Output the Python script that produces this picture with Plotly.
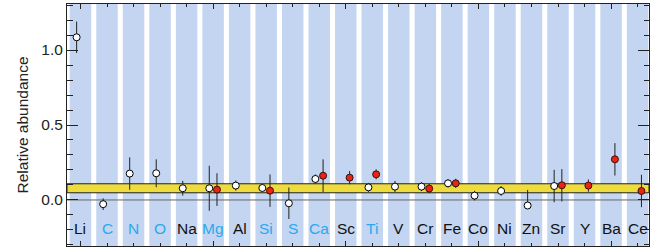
import plotly.graph_objects as go

elements = ["Li", "C", "N", "O", "Na", "Mg", "Al", "Si", "S", "Ca", "Sc",
            "Ti", "V", "Cr", "Fe", "Co", "Ni", "Zn", "Sr", "Y", "Ba", "Ce"]
highlight = ["C", "N", "O", "Mg", "Si", "S", "Ca", "Ti"]

# open (white) points
white_val = [1.085, -0.028, 0.176, 0.178, 0.078, 0.078, 0.096, 0.080, -0.022, 0.140, None,
             0.084, 0.089, 0.089, 0.111, 0.029, 0.060, -0.037, 0.093, None, None, None]
white_errp = [0.105, 0.039, 0.108, 0.093, 0.049, 0.150, 0.034, 0.022, 0.105, 0.030, None,
              0.030, 0.038, 0.030, 0.027, 0.032, 0.032, 0.104, 0.108, None, None, None]
white_errm = [0.105, 0.039, 0.108, 0.093, 0.049, 0.150, 0.034, 0.022, 0.105, 0.030, None,
              0.030, 0.038, 0.030, 0.027, 0.032, 0.032, 0.0, 0.108, None, None, None]

# filled (red) points
red_val = [None, None, None, None, None, 0.069, None, 0.062, None, 0.162, 0.149,
           0.171, None, 0.076, 0.111, None, None, None, 0.098, 0.096, 0.271, 0.060]
red_err = [None, None, None, None, None, 0.109, None, 0.108, None, 0.109, 0.044,
           0.033, None, 0.031, 0.030, None, None, None, 0.108, 0.041, 0.108, 0.108]

band_low, band_high = 0.048, 0.108

FONT = "Liberation Sans"
BLUE_BAND = "#C3D5F1"
YELLOW = "#EEDC3F"
LABEL_BLUE = "#29A9F0"
OFFSET = 0.145

idx = list(range(len(elements)))

def pick(vals, ep, em, off):
    xs, ys, p, m = [], [], [], []
    for i, v in enumerate(vals):
        if v is None:
            continue
        xs.append(i + off)
        ys.append(v)
        p.append(ep[i])
        m.append(em[i])
    return xs, ys, p, m

fig = go.Figure()

wx, wy, wp, wm = pick(white_val, white_errp, white_errm, -OFFSET)
fig.add_trace(go.Scatter(
    x=wx, y=wy, mode="markers",
    marker=dict(size=7, color="white", line=dict(color="black", width=1)),
    error_y=dict(type="data", symmetric=False, array=wp, arrayminus=wm,
                 color="#222222", thickness=1, width=0),
    showlegend=False, cliponaxis=False))

rx, ry, rp, rm = pick(red_val, red_err, red_err, OFFSET)
fig.add_trace(go.Scatter(
    x=rx, y=ry, mode="markers",
    marker=dict(size=7, color="#EE2211", line=dict(color="#331111", width=1)),
    error_y=dict(type="data", symmetric=False, array=rp, arrayminus=rm,
                 color="#222222", thickness=1, width=0),
    showlegend=False, cliponaxis=False))

shapes = []
for i in idx:
    shapes.append(dict(type="rect", xref="x", yref="paper", x0=i - 0.405, x1=i + 0.405,
                       y0=0, y1=1, fillcolor=BLUE_BAND, line=dict(width=0), layer="below"))
shapes.append(dict(type="rect", xref="paper", yref="y", x0=0, x1=1, y0=band_low, y1=band_high,
                   fillcolor=YELLOW, line=dict(color="#222222", width=1), layer="below"))
shapes.append(dict(type="line", xref="paper", yref="y", x0=0, x1=1, y0=0, y1=0,
                   line=dict(color="#666666", width=1), layer="below"))

annotations = []
for i, el in enumerate(elements):
    annotations.append(dict(x=i, y=-0.19, xref="x", yref="y", text=el, showarrow=False,
                            xanchor="center", yanchor="middle",
                            font=dict(family=FONT, size=15.5,
                                      color=LABEL_BLUE if el in highlight else "#111111")))
annotations.append(dict(x=-0.0765, y=0.5, xref="paper", yref="paper", text="Relative abundance",
                        textangle=-90, showarrow=False, xanchor="center", yanchor="middle",
                        font=dict(family=FONT, size=15.5, color="#222222")))

fig.update_layout(
    width=655, height=248,
    margin=dict(l=66.5, r=6, t=4, b=2),
    paper_bgcolor="white", plot_bgcolor="white",
    shapes=shapes, annotations=annotations,
    font=dict(family=FONT, size=15.5, color="#222222"),
    xaxis=dict(range=[-0.508, 21.43], showgrid=False, zeroline=False,
               tickmode="linear", tick0=0, dtick=5, ticks="inside", ticklen=5,
               tickcolor="#222222", showticklabels=False,
               showline=True, linecolor="#222222", linewidth=1, mirror="allticks",
               minor=dict(ticks="inside", ticklen=3, dtick=1, tick0=0, tickcolor="#222222",
                          showgrid=False)),
    yaxis=dict(range=[-0.307, 1.307], showgrid=False, zeroline=False,
               tickmode="linear", tick0=0, dtick=0.5, tickformat=".1f",
               ticks="inside", ticklen=11, tickcolor="#222222",
               showline=True, linecolor="#222222", linewidth=1, mirror="allticks",
               tickfont=dict(family=FONT, size=15.5, color="#222222"),
               minor=dict(ticks="inside", ticklen=5.5, dtick=0.1, tick0=0, tickcolor="#222222",
                          showgrid=False)),
)

fig.write_html("out.html", config={"displayModeBar": False},
               post_script="document.body.style.margin='0px';document.body.style.overflow='hidden';")
